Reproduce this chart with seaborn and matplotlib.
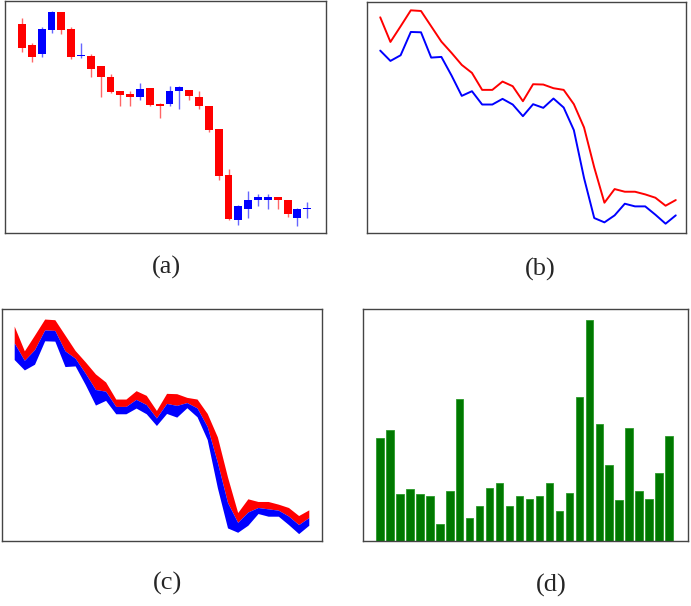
import numpy as np
import pandas as pd
import matplotlib
matplotlib.use("Agg")
import matplotlib.pyplot as plt
import seaborn as sns

# daily bars (arbitrary price units)
days = list(range(30))
open_ = [62.7, 56.5, 53.7, 60.8, 66.2, 61.0, 53.0, 53.0, 50.0, 46.8,
         42.5, 41.7, 40.7, 43.5, 38.8, 38.8, 42.5, 42.8, 40.8, 38.0,
         31.2, 17.5, 4.0, 7.5, 10.0, 10.0, 11.0, 10.0, 4.8, 7.3]
close = [55.5, 52.8, 61.0, 66.2, 60.8, 52.8, 53.5, 49.3, 46.8, 42.3,
         41.5, 40.7, 43.3, 38.5, 38.0, 42.5, 43.8, 41.2, 38.0, 31.0,
         17.2, 4.5, 8.2, 10.0, 11.0, 11.0, 10.0, 5.8, 7.4, 7.7]
high = [64.3, 56.9, 61.6, 66.4, 66.2, 61.6, 57.0, 53.6, 50.0, 47.6,
        42.5, 42.5, 45.0, 43.6, 39.1, 44.2, 44.1, 43.0, 42.5, 38.2,
        31.2, 19.2, 8.6, 12.7, 11.9, 11.9, 11.1, 10.1, 7.7, 9.4]
low = [54.3, 51.2, 52.9, 59.9, 59.8, 52.2, 52.4, 46.8, 40.7, 42.1,
       38.1, 38.1, 39.8, 38.1, 34.6, 38.2, 37.1, 39.9, 37.2, 30.4,
       16.0, 4.0, 2.7, 4.8, 8.3, 7.5, 7.5, 5.0, 2.3, 4.8]
volume = [30.7, 33.2, 14.0, 15.5, 14.2, 13.6, 5.2, 14.9, 42.5, 7.0,
          10.4, 15.9, 17.4, 10.6, 13.6, 12.5, 13.6, 17.4, 9.1, 14.3,
          43.0, 66.2, 35.0, 22.7, 12.2, 33.9, 15.1, 12.6, 20.4, 31.5]
panel_labels = ["(a)", "(b)", "(c)", "(d)"]

RED = "#ff0000"
BLUE = "#0000ff"


def frame(ax):
    ax.set_xticks([])
    ax.set_yticks([])
    ax.set_xlabel("")
    ax.set_ylabel("")
    for s in ax.spines.values():
        s.set_visible(True)
        s.set_color("#444444")
        s.set_linewidth(1.0)


def main():
    sns.set_style("white")
    df = pd.DataFrame({"day": days, "open": open_, "close": close,
                       "high": high, "low": low, "volume": volume})
    df["mid"] = (df["high"] + df["low"]) / 2
    colors = [BLUE if c >= o else RED for o, c in zip(df["open"], df["close"])]

    fig = plt.figure(figsize=(6.91, 6.06), dpi=100)
    ax_a = fig.add_axes([0.0072, 0.6155, 0.4645, 0.3828])
    ax_b = fig.add_axes([0.5311, 0.6155, 0.4616, 0.3812])
    ax_c = fig.add_axes([0.0029, 0.1073, 0.4631, 0.3828])
    ax_d = fig.add_axes([0.5253, 0.1073, 0.4703, 0.3828])

    # (a) candlesticks
    ax_a.vlines(df["day"], df["low"], df["high"], colors=colors, lw=1.0, alpha=0.6)
    body_lo = np.minimum(df["open"], df["close"])
    body_h = np.maximum(np.abs(df["close"] - df["open"]), 0.4)
    ax_a.bar(df["day"], body_h, bottom=body_lo, width=0.8, color=colors, linewidth=0)
    ax_a.set_xlim(-1.73, 30.9)
    ax_a.set_ylim(0.2, 69.5)
    frame(ax_a)

    # (b) high / low lines
    sns.lineplot(data=df, x="day", y="high", color=RED, lw=1.4, ax=ax_b)
    sns.lineplot(data=df, x="day", y="low", color=BLUE, lw=1.4, ax=ax_b)
    ax_b.set_xlim(-1.3, 30.0)
    ax_b.set_ylim(-0.5, 68.9)
    frame(ax_b)

    # (c) filled band split at the midpoint
    ax_c.fill_between(df["day"], df["mid"], df["high"], color=RED, lw=0)
    ax_c.fill_between(df["day"], df["low"], df["mid"], color=BLUE, lw=0)
    ax_c.set_xlim(-1.2, 30.3)
    ax_c.set_ylim(0.1, 69.4)
    frame(ax_c)

    # (d) volume bars
    sns.barplot(data=df, x="day", y="volume", color="#007800", saturation=1,
                width=0.75, edgecolor="#2a9a2a", linewidth=0.6, ax=ax_d)
    ax_d.set_xlim(-1.71, 30.9)
    ax_d.set_ylim(0, 69.4)
    frame(ax_d)

    label_pos = [(166, 267), (540, 269), (168, 583), (551, 585)]
    for txt, (px, py) in zip(panel_labels, label_pos):
        fig.text(px / 691, 1 - py / 606, txt, ha="center", va="center",
                 fontsize=19, family=["Liberation Serif", "DejaVu Serif"])

    fig.savefig("out.png", dpi=100)
    plt.close(fig)


if __name__ == "__main__":
    main()
